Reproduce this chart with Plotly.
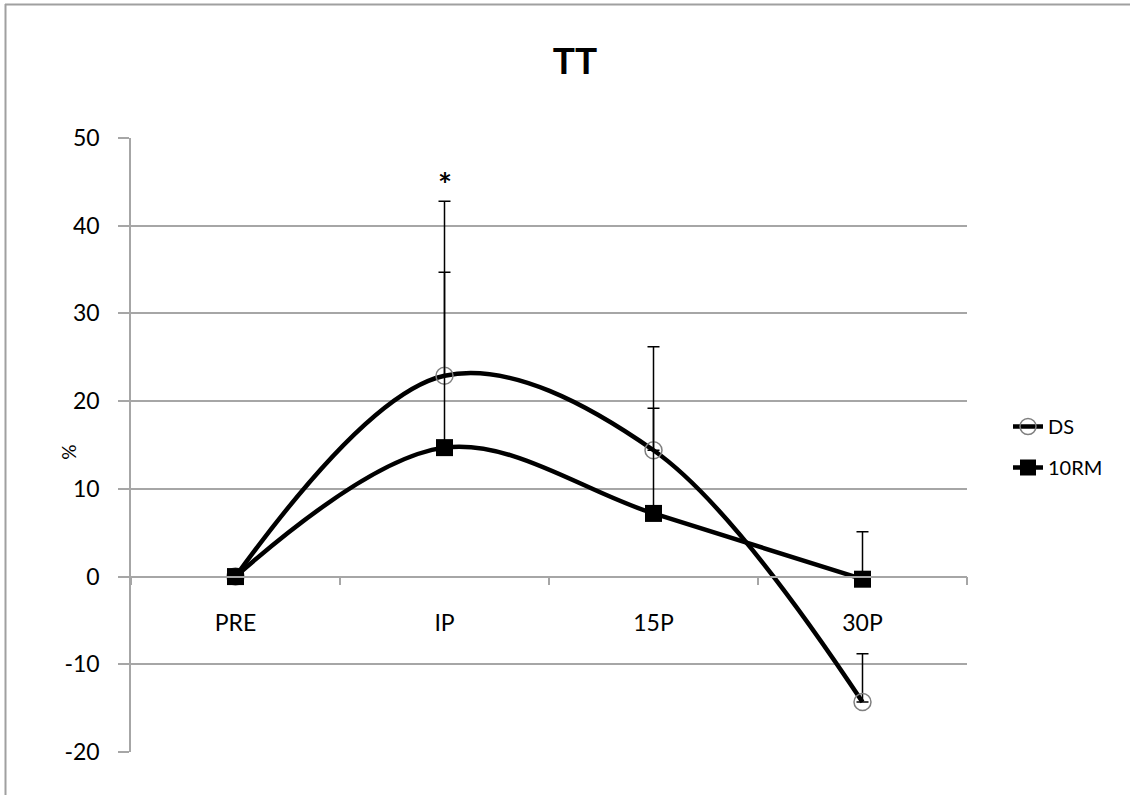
import plotly.graph_objects as go

categories = ["PRE", "IP", "15P", "30P"]
ds_values = [0, 22.9, 14.4, -14.3]
ds_err = [0, 19.9, 11.8, 5.5]
rm_values = [0, 14.7, 7.2, -0.3]
rm_err = [0, 20.0, 12.0, 5.4]
y_ticks = [-20, -10, 0, 10, 20, 30, 40, 50]
y_tick_text = ["-20", "-10", "0", "10", "20", "30", "40", "50"]

FONT = "Lato"
GRID = "#a6a6a6"

fig = go.Figure()

fig.add_trace(go.Scatter(
    x=categories, y=ds_values, name="DS", mode="lines+markers",
    line=dict(color="black", width=4.5, shape="spline", smoothing=1.0),
    marker=dict(symbol="circle-open", size=17, color="#7f7f7f", line=dict(width=1.5, color="#7f7f7f")),
    error_y=dict(type="data", array=ds_err, arrayminus=[0] * 4, symmetric=False,
                 color="black", thickness=1.5, width=6),
    legendgroup="a",
))
fig.add_trace(go.Scatter(
    x=categories, y=rm_values, name="10RM", mode="lines+markers",
    line=dict(color="black", width=4.5, shape="spline", smoothing=1.0),
    marker=dict(symbol="square", size=17, color="black"),
    error_y=dict(type="data", array=rm_err, arrayminus=[0] * 4, symmetric=False,
                 color="black", thickness=1.5, width=6),
    legendgroup="b",
))

fig.add_annotation(x="IP", y=44.7, text="<b>*</b>", showarrow=False,
                   font=dict(family=FONT, size=33, color="black"))
fig.add_annotation(xref="paper", yref="paper", x=(55 - 131) / 836, y=0.5 - 0.012, text="%",
                   textangle=-90, showarrow=False, font=dict(family=FONT, size=19, color="black"))

# outer chart border (left and top visible)
fig.add_shape(type="line", xref="paper", yref="paper", x0=(5 - 131) / 836, x1=(1135 - 131) / 836,
              y0=(752 - 4.5) / 614, y1=(752 - 4.5) / 614, line=dict(color="#a0a0a0", width=2))
fig.add_shape(type="line", xref="paper", yref="paper", x0=(5.5 - 131) / 836, x1=(5.5 - 131) / 836,
              y0=(752 - 4) / 614, y1=(752 - 800) / 614, line=dict(color="#a0a0a0", width=2))

fig.update_layout(
    width=1130, height=795,
    margin=dict(l=131, r=163, t=138, b=43),
    paper_bgcolor="white", plot_bgcolor="white",
    font=dict(family=FONT, color="black"),
    title=dict(text="<b>TT</b>", x=575 / 1130, xanchor="center", y=1 - 61 / 795, yanchor="middle",
               yref="container", font=dict(family=FONT, size=37, color="black")),
    showlegend=True,
    legend=dict(x=(1008 - 131) / 836, y=(752 - 407) / 614, xanchor="left", yanchor="top",
                font=dict(family=FONT, size=20, color="black"), traceorder="grouped",
                tracegroupgap=12, bgcolor="rgba(0,0,0,0)", itemwidth=30),
    xaxis=dict(type="category", categoryorder="array", categoryarray=categories,
               range=[-0.5, 3.5], anchor="free", position=2 / 7,
               showline=True, linecolor=GRID, linewidth=1.5,
               ticks="outside", tickson="boundaries", ticklen=8, tickcolor=GRID, tickwidth=1.5,
               showgrid=False, tickfont=dict(family=FONT, size=23, color="black"),
               ticklabelstandoff=26),
    yaxis=dict(range=[-20, 50], tickvals=y_ticks, ticktext=y_tick_text, showgrid=True,
               gridcolor=GRID, gridwidth=1.5,
               zeroline=False, showline=True, linecolor=GRID, linewidth=1.5,
               ticks="outside", ticklen=11, tickcolor=GRID, tickwidth=1.5,
               tickfont=dict(family=FONT, size=23, color="black"), ticklabelstandoff=14),
)

fig.write_html("out.html", config={"displayModeBar": False},
               post_script="document.body.style.margin='0';")
